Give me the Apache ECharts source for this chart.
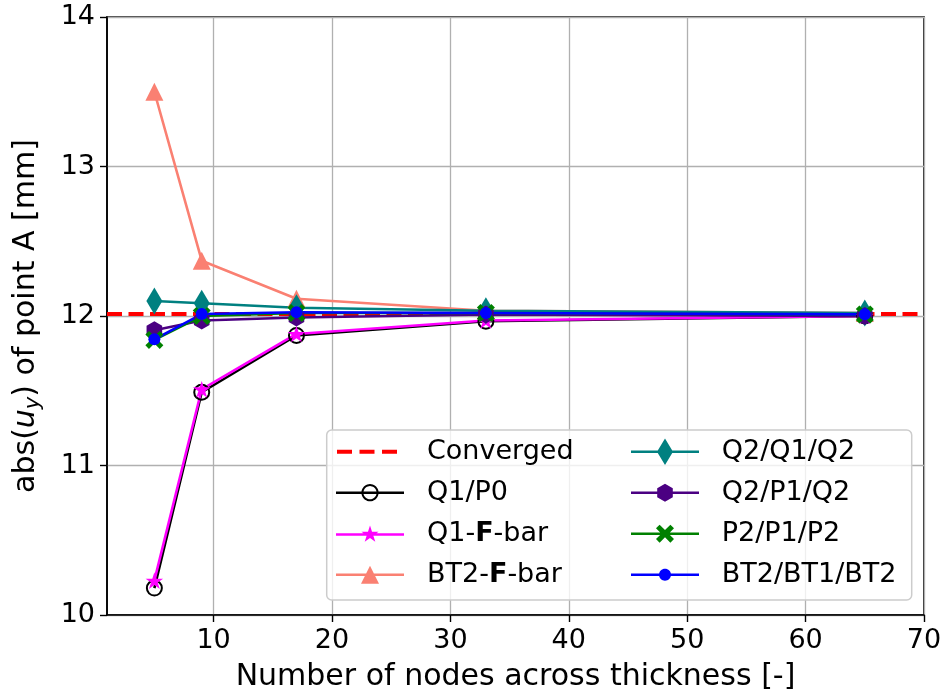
<!DOCTYPE html>
<html>
<head>
<meta charset="utf-8">
<title>Convergence of abs(u_y) at point A</title>
<script src="https://cdn.jsdelivr.net/npm/echarts@6/dist/echarts.min.js"></script>
<style>
  html, body { margin: 0; padding: 0; background: #fff; }
  #chart { width: 948px; height: 698px; }
</style>
</head>
<body>
<div id="chart"></div>
<script>
// Number of nodes across the thickness
const nodes = [5, 9, 17, 33, 65];

// abs(u_y) of point A [mm] for each element formulation
const q1p0      = [10.18, 11.49, 11.87, 11.965, 12.00];
const q1Fbar    = [10.23, 11.51, 11.88, 11.97, 12.00];
const bt2Fbar   = [13.50, 12.37, 12.115, 12.035, 12.02];
const q2q1q2    = [12.10, 12.085, 12.055, 12.035, 12.02];
const q2p1q2    = [11.905, 11.97, 11.99, 12.01, 12.00];
const p2p1p2    = [11.84, 12.00, 12.02, 12.02, 12.01];
const bt2bt1bt2 = [11.844, 12.013, 12.025, 12.02, 12.011];

// Converged reference value
const converged = 12.013;

// Axis ranges and tick labels
const xRange = [1, 70];
const xTicks = [10, 20, 30, 40, 50, 60, 70];
const yRange = [10, 14];

const FONT = 'DejaVu Sans';
const FS = 27;      // tick labels and legend
const FS_NAME = 30; // axis titles

// ---- marker shapes -------------------------------------------------------
function starPts(r) {
  const pts = [];
  for (let k = 0; k < 10; k++) {
    const a = -Math.PI / 2 + k * Math.PI / 5;
    const rr = k % 2 === 0 ? r : r * 0.382;
    pts.push([rr * Math.cos(a), rr * Math.sin(a)]);
  }
  return pts;
}
function hexPts(r) {
  const pts = [];
  for (let k = 0; k < 6; k++) {
    const a = -Math.PI / 2 + k * Math.PI / 3;
    pts.push([r * Math.cos(a), r * Math.sin(a)]);
  }
  return pts;
}
function xPts(s) {
  const a = s * 0.6, b = s * 0.4;
  return [[-s, -a], [-a, -s], [0, -b], [a, -s], [s, -a], [b, 0],
          [s, a], [a, s], [0, b], [-a, s], [-s, a], [-b, 0]];
}
function circlePts(r, n) {
  const pts = [];
  for (let k = 0; k < n; k++) {
    const a = -Math.PI / 2 + k * 2 * Math.PI / n;
    pts.push([r * Math.cos(a), r * Math.sin(a)]);
  }
  return pts;
}
function area(pts) {
  let s = 0;
  for (let i = 0; i < pts.length; i++) {
    const p = pts[i], q = pts[(i + 1) % pts.length];
    s += p[0] * q[1] - q[0] * p[1];
  }
  return s;
}
// closed polygon, oriented clockwise on screen (or reversed when asked)
function poly(pts, dx, dy, reverse) {
  let p = pts.slice();
  if (area(p) < 0) p.reverse();
  if (reverse) p.reverse();
  return 'M' + p.map(v => (v[0] + dx).toFixed(3) + ',' + (v[1] + dy).toFixed(3)).join('L') + 'Z';
}
const symStar = 'path://' + poly(starPts(10), 0, 0);
const symHex = 'path://' + poly(hexPts(10), 0, 0);
const symX = 'path://' + poly(xPts(10), 0, 0);

// ---- legend handles: line segment with the marker in its middle ----------
const HW = 68;
function lineRect(t) { return poly([[0, -t / 2], [HW, -t / 2], [HW, t / 2], [0, t / 2]], 0, 0); }
function handle(markerPath) { return 'path://' + lineRect(2.6) + markerPath; }
const cx = HW / 2;
const iconConverged = 'path://' +
  poly([[0, -2], [15, -2], [15, 2], [0, 2]], 1, 0) +
  poly([[0, -2], [15, -2], [15, 2], [0, 2]], 23.5, 0) +
  poly([[0, -2], [15, -2], [15, 2], [0, 2]], 46, 0) +
  poly([[0, -0.01], [0.02, -0.01], [0.02, 0.01], [0, 0.01]], HW - 0.02, 0) +
  poly([[0, -0.01], [0.02, -0.01], [0.02, 0.01], [0, 0.01]], 0, 0);
const iconQ1P0 = handle(poly(circlePts(8.6, 40), cx, 0) + poly(circlePts(6.6, 40), cx, 0, true));
const iconQ1F = handle(poly(starPts(9), cx, 0));
const iconBT2F = handle(poly([[0, -9], [9, 9], [-9, 9]], cx, 0));
const iconQ2Q1 = handle(poly([[0, -13.3], [8, 0], [0, 13.3], [-8, 0]], cx, 0));
const iconQ2P1 = handle(poly(hexPts(9), cx, 0));
const iconP2P1 = handle(poly(xPts(9), cx, 0));
const iconBT2BT1 = handle(poly(circlePts(6, 32), cx, 0));

function pairs(vals) { return nodes.map((x, i) => [x, vals[i]]); }

function lineSeries(name, vals, color, symbol, size, extra) {
  return Object.assign({
    type: 'line',
    name: name,
    data: pairs(vals),
    symbol: symbol,
    symbolSize: size,
    showAllSymbol: true,
    lineStyle: { color: color, width: 2.6 },
    itemStyle: { color: color },
    emphasis: { disabled: true },
    animation: false
  }, extra || {});
}

const series = [
  {
    type: 'line',
    name: 'Converged',
    data: [[xRange[0], converged], [xRange[1], converged]],
    symbol: 'none',
    lineStyle: { color: '#ff0000', width: 4, type: [15, 6.5] },
    itemStyle: { color: '#ff0000' },
    emphasis: { disabled: true },
    animation: false
  },
  lineSeries('Q1/P0', q1p0, '#000000', 'circle', 15, {
    itemStyle: { color: 'rgba(0,0,0,0)', borderColor: '#000000', borderWidth: 2 }
  }),
  lineSeries('Q1-F-bar', q1Fbar, '#ff00ff', symStar, [17.5, 16.6]),
  lineSeries('BT2-F-bar', bt2Fbar, '#fa8072', 'triangle', [18, 18]),
  lineSeries('Q2/Q1/Q2', q2q1q2, '#008080', 'diamond', [16, 27]),
  lineSeries('Q2/P1/Q2', q2p1q2, '#4b0082', symHex, [15.6, 18]),
  lineSeries('P2/P1/P2', p2p1p2, '#008000', symX, [18, 18]),
  lineSeries('BT2/BT1/BT2', bt2bt1bt2, '#0000ff', 'circle', 12)
];

const legendText = {
  fontFamily: FONT,
  fontSize: FS,
  color: '#000',
  lineHeight: 28,
  rich: {
    b: { fontFamily: FONT, fontSize: FS, fontWeight: 'bold', color: '#000', lineHeight: 28 }
  }
};
function legendFmt(name) { return name.replace('-F-', '-{b|F}-'); }
function legendBlock(items, left, pad) {
  return {
    data: items.map(it => ({
      name: it[0], icon: it[1],
      itemStyle: { color: it[2], borderWidth: 0, opacity: 1 }
    })),
    orient: 'vertical',
    left: left,
    top: 437.7,
    itemWidth: HW,
    itemHeight: 28,
    itemGap: 13,
    padding: 0,
    selectedMode: false,
    formatter: legendFmt,
    textStyle: Object.assign({ padding: [0, 0, 0, pad] }, legendText),
    z: 6
  };
}

const option = {
  backgroundColor: '#ffffff',
  animation: false,
  grid: {
    left: 107, right: 24, top: 17, bottom: 83,
    show: true, borderColor: '#000', borderWidth: 1.6,
    outerBoundsMode: 'none', containLabel: false
  },
  xAxis: {
    type: 'value',
    min: xRange[0], max: xRange[1],
    name: 'Number of nodes across thickness [-]',
    nameLocation: 'middle',
    nameGap: 47,
    nameTextStyle: { fontFamily: FONT, fontSize: FS_NAME, color: '#000' },
    axisLine: { show: true, lineStyle: { color: '#000', width: 1.6 } },
    axisTick: { show: true, inside: false, length: 7, lineStyle: { color: '#000', width: 1.4 }, customValues: xTicks },
    axisLabel: { fontFamily: FONT, fontSize: FS, color: '#000', margin: 12, customValues: xTicks },
    splitLine: { show: true, lineStyle: { color: '#b0b0b0', width: 1.3 } }
  },
  yAxis: {
    type: 'value',
    min: yRange[0], max: yRange[1], interval: 1,
    axisLine: { show: true, lineStyle: { color: '#000', width: 1.6 } },
    axisTick: { show: true, inside: false, length: 7, lineStyle: { color: '#000', width: 1.4 } },
    axisLabel: { fontFamily: FONT, fontSize: FS, color: '#000', margin: 12 },
    splitLine: { show: true, lineStyle: { color: '#b0b0b0', width: 1.3 } }
  },
  legend: [
    legendBlock([
      ['Converged', iconConverged, '#ff0000'],
      ['Q1/P0', iconQ1P0, '#000000'],
      ['Q1-F-bar', iconQ1F, '#ff00ff'],
      ['BT2-F-bar', iconBT2F, '#fa8072']
    ], 336, 18),
    legendBlock([
      ['Q2/Q1/Q2', iconQ2Q1, '#008080'],
      ['Q2/P1/Q2', iconQ2P1, '#4b0082'],
      ['P2/P1/P2', iconP2P1, '#008000'],
      ['BT2/BT1/BT2', iconBT2BT1, '#0000ff']
    ], 631, 17.7)
  ],
  graphic: [
    {
      // legend frame
      type: 'rect',
      z: 5,
      shape: { x: 326.7, y: 430, width: 585, height: 170, r: 5 },
      style: { fill: 'rgba(255,255,255,0.8)', stroke: '#cccccc', lineWidth: 1.5 }
    },
    {
      // y-axis title with italic u and subscript y
      type: 'text',
      z: 5,
      x: 26, y: 316,
      rotation: Math.PI / 2,
      style: {
        text: '{n|abs(}{i|u}{s|y}{n|) of point A [mm]}',
        align: 'center',
        verticalAlign: 'middle',
        fontFamily: FONT,
        fontSize: FS_NAME,
        fill: '#000',
        rich: {
          n: { fontFamily: FONT, fontSize: FS_NAME, fill: '#000', lineHeight: 36 },
          i: { fontFamily: FONT, fontSize: FS_NAME, fontStyle: 'italic', fill: '#000', lineHeight: 36 },
          s: { fontFamily: FONT, fontSize: 21, fontStyle: 'italic', fill: '#000', lineHeight: 21, verticalAlign: 'bottom' }
        }
      }
    }
  ],
  series: series
};

const chart = echarts.init(document.getElementById('chart'), null, { renderer: 'canvas' });
chart.setOption(option);
</script>
</body>
</html>
